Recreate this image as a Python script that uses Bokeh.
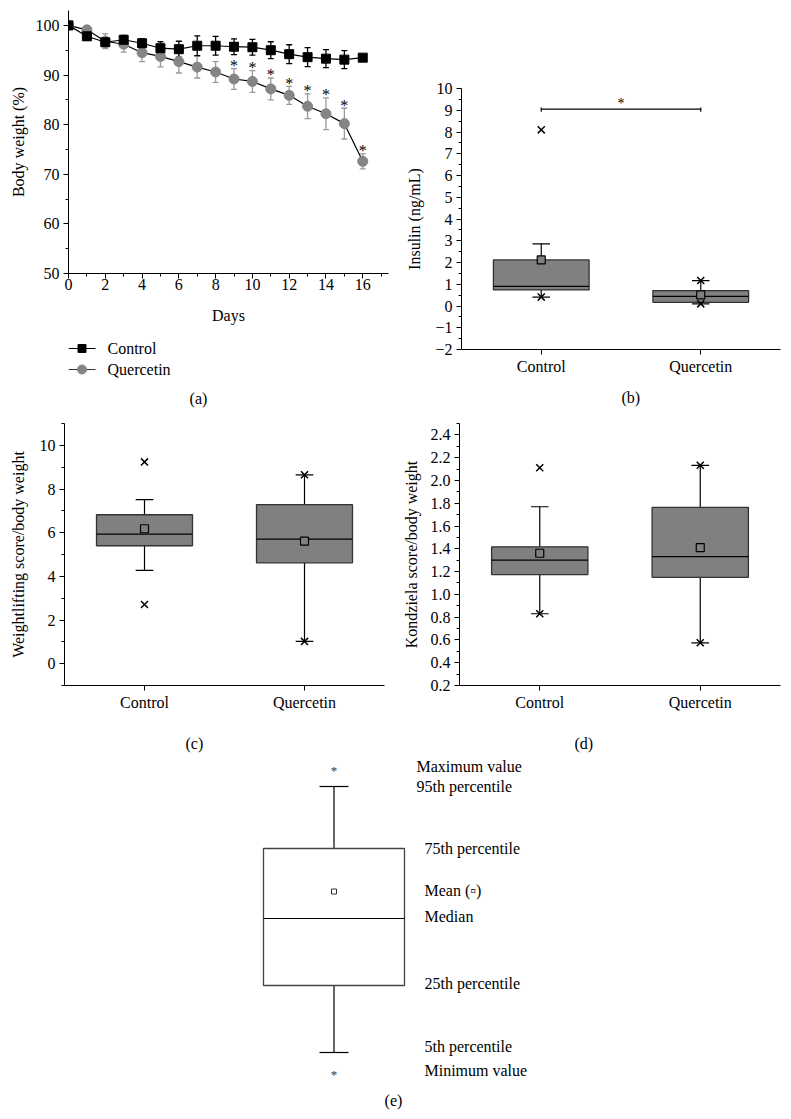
from bokeh.plotting import figure
from bokeh.models import (FixedTicker, ColumnDataSource, Title,
                          Whisker, TeeHead, NumeralTickFormatter, Range1d)
from bokeh.layouts import column, row
from bokeh.embed import file_html
from bokeh.resources import INLINE
from bokeh.core.properties import value

FONT = "Liberation Serif"
FS = "16px"

# ---------------- (a) body weight ----------------
days = list(range(17))
control_bw = [100, 97.8, 96.6, 97.1, 96.4, 95.4, 95.2, 95.9, 95.9, 95.7, 95.6, 95.0, 94.2, 93.6, 93.3, 93.1, 93.5]
control_sem = [0, 0.8, 0.9, 0.9, 0.9, 1.3, 1.6, 2.0, 1.9, 1.6, 1.6, 1.7, 1.9, 1.9, 1.8, 1.8, 0.4]
quercetin_bw = [100, 99.1, 96.8, 96.2, 94.5, 93.75, 92.7, 91.6, 90.6, 89.2, 88.7, 87.2, 85.9, 83.7, 82.2, 80.2, 72.6]
quercetin_sem = [0, 0.4, 1.5, 1.6, 1.8, 2.1, 2.3, 2.2, 2.1, 2.1, 2.2, 2.2, 1.8, 2.5, 3.2, 3.1, 1.5]
significant_days = [9, 10, 11, 12, 13, 14, 15, 16]
series_names = ["Control", "Quercetin"]

# ---------------- box plots ----------------
groups = ["Control", "Quercetin"]
group_pos = [1, 2]

insulin_q1 = [0.74, 0.17]
insulin_median = [0.90, 0.44]
insulin_q3 = [2.12, 0.71]
insulin_mean = [2.12, 0.51]
insulin_p5 = [0.41, 0.10]
insulin_p95 = [2.86, 1.17]
insulin_min = [0.41, 0.10]
insulin_max = [8.10, 1.17]

weight_q1 = [5.40, 4.62]
weight_median = [5.93, 5.70]
weight_q3 = [6.82, 7.28]
weight_mean = [6.18, 5.61]
weight_p5 = [4.27, 1.02]
weight_p95 = [7.51, 8.65]
weight_min = [2.71, 1.02]
weight_max = [9.24, 8.65]

kond_q1 = [1.174, 1.15]
kond_median = [1.30, 1.332]
kond_q3 = [1.417, 1.764]
kond_mean = [1.361, 1.411]
kond_p5 = [0.83, 0.575]
kond_p95 = [1.769, 2.133]
kond_min = [0.83, 0.575]
kond_max = [2.112, 2.133]

# ---------------- (e) key ----------------
key_labels = ["Maximum value", "95th percentile", "75th percentile", "Mean (\u25ab)",
              "Median", "25th percentile", "5th percentile", "Minimum value"]
key_max, key_p95, key_q3, key_mean, key_median, key_q1, key_p5, key_min = 30.4, 28.5, 22.3, 18.0, 15.3, 8.6, 1.9, 0.0
key_label_y = [30.5, 28.5, 22.3, 18.1, 15.5, 8.8, 2.5, 0.1]
key_label_x = [408, 408, 416, 416, 416, 416, 416, 416]

BOX_FILL = "#808080"
BOX_LINE = "#333333"


def make_fig(w, h, bl, br, bt, bb, xr, yr):
    p = figure(width=w, height=h, min_border_left=bl, min_border_right=br,
               min_border_top=bt, min_border_bottom=bb, x_range=Range1d(*xr), y_range=Range1d(*yr),
               output_backend="svg", toolbar_location=None, align="start")
    p.outline_line_color = None
    p.grid.visible = False
    p.background_fill_color = "white"
    p.border_fill_color = "white"
    for ax in (p.xaxis[0], p.yaxis[0]):
        ax.axis_line_color = "black"
        ax.axis_line_width = 1
        ax.major_tick_line_color = "black"
        ax.minor_tick_line_color = "black"
        ax.major_tick_in = 0
        ax.major_tick_out = 5
        ax.minor_tick_in = 0
        ax.minor_tick_out = 3
        ax.major_label_text_font = FONT
        ax.major_label_text_font_size = FS
        ax.major_label_text_color = "black"
        ax.axis_label_text_font = FONT
        ax.axis_label_text_font_size = FS
        ax.axis_label_text_font_style = "normal"
        ax.axis_label_text_color = "black"
    p.yaxis.major_label_standoff = 4
    return p


def caption(p, text, offset):
    p.add_layout(Title(text=text, align="left", offset=offset, standoff=0, vertical_align="bottom",
                       text_font=FONT, text_font_size=FS, text_font_style="normal", text_color="black"),
                 "below")


def spacer_label(p, gap):
    # invisible axis label used only as vertical spacing before the panel caption
    p.xaxis.axis_label = " "
    p.xaxis.axis_label_text_font_size = "1px"
    p.xaxis.axis_label_standoff = gap


# ---------------- panel (a) ----------------
pa = make_fig(395, 331, 68, 7, 10, 58, (0, 17.4), (50, 103))
pa.xaxis.ticker = FixedTicker(ticks=list(range(0, 17, 2)), minor_ticks=list(range(1, 18, 2)))
pa.yaxis.ticker = FixedTicker(ticks=list(range(50, 101, 10)), minor_ticks=list(range(55, 101, 10)))
pa.xaxis.major_label_standoff = 0
pa.xaxis.axis_label = "Days"
pa.xaxis.axis_label_standoff = 14
pa.yaxis.axis_label = "Body weight (%)"
pa.yaxis.axis_label_standoff = 6

qsrc = ColumnDataSource(dict(x=days, y=quercetin_bw,
                             lo=[m - e for m, e in zip(quercetin_bw, quercetin_sem)],
                             hi=[m + e for m, e in zip(quercetin_bw, quercetin_sem)]))
csrc = ColumnDataSource(dict(x=days, y=control_bw,
                             lo=[m - e for m, e in zip(control_bw, control_sem)],
                             hi=[m + e for m, e in zip(control_bw, control_sem)]))

pa.add_layout(Whisker(source=qsrc, base="x", lower="lo", upper="hi", line_color="#9a9a9a", line_width=1.3,
                      upper_head=TeeHead(size=6, line_color="#9a9a9a", line_width=1.3),
                      lower_head=TeeHead(size=6, line_color="#9a9a9a", line_width=1.3)))
pa.line("x", "y", source=qsrc, line_color="black", line_width=1.2)
pa.scatter("x", "y", source=qsrc, marker="circle", size=10, fill_color="#858585", line_color="#858585")
pa.add_layout(Whisker(source=csrc, base="x", lower="lo", upper="hi", line_color="black", line_width=1.3,
                      upper_head=TeeHead(size=6, line_color="black", line_width=1.3),
                      lower_head=TeeHead(size=6, line_color="black", line_width=1.3)))
pa.line("x", "y", source=csrc, line_color="black", line_width=1.2)
pa.scatter("x", "y", source=csrc, marker="square", size=9, fill_color="black", line_color="black")

star_y = [quercetin_bw[d] + quercetin_sem[d] for d in significant_days]
pa.text(x=significant_days, y=star_y, text=["*"] * len(significant_days), text_font=value(FONT),
        text_font_size=FS, text_align="center", text_baseline="middle", y_offset=-3, text_color="black")

# legend + caption strip under panel (a) (coordinates in page pixels)
pa_leg = figure(width=395, height=79, x_range=Range1d(68, 388), y_range=Range1d(410, 331),
                min_border_left=68, min_border_right=7, min_border_top=0, min_border_bottom=0,
                x_axis_type=None, y_axis_type=None, output_backend="svg", toolbar_location=None,
                align="start")
pa_leg.outline_line_color = None
pa_leg.grid.visible = False
leg_y = [348, 369]
pa_leg.segment(x0=[68, 68], y0=leg_y, x1=[95, 95], y1=leg_y, line_color=["black", "#333333"], line_width=1.2)
pa_leg.scatter(x=[81.5], y=[leg_y[0]], marker="square", size=8, fill_color="black", line_color="black")
pa_leg.scatter(x=[81.5], y=[leg_y[1]], marker="circle", size=9, fill_color="#858585", line_color="#858585")
pa_leg.text(x=[107, 107], y=leg_y, text=series_names, text_font=value(FONT), text_font_size=FS,
            text_align="left", text_baseline="middle", text_color="black")
pa_leg.text(x=[198], y=[398], text=["(a)"], text_font=value(FONT), text_font_size=FS,
            text_align="center", text_baseline="middle", text_color="black")


# ---------------- box helper ----------------
def box_panel(p, q1, med, q3, mean, p5, p95, mn, mx):
    bw = 0.3
    cw = 0.055
    x = group_pos
    p.segment(x0=x, y0=q3, x1=x, y1=p95, line_color="black", line_width=1.2)
    p.segment(x0=x, y0=q1, x1=x, y1=p5, line_color="black", line_width=1.2)
    p.segment(x0=[v - cw for v in x], y0=p95, x1=[v + cw for v in x], y1=p95, line_color="black", line_width=1.2)
    p.segment(x0=[v - cw for v in x], y0=p5, x1=[v + cw for v in x], y1=p5, line_color="black", line_width=1.2)
    p.quad(left=[v - bw for v in x], right=[v + bw for v in x], bottom=q1, top=q3,
           fill_color=BOX_FILL, line_color=BOX_LINE, line_width=1.3)
    p.segment(x0=[v - bw for v in x], y0=med, x1=[v + bw for v in x], y1=med, line_color="black", line_width=1.2)
    p.scatter(x=x, y=mean, marker="square", size=8, fill_color=BOX_FILL, line_color="black", line_width=1.2)
    p.scatter(x=x, y=mn, marker="x", size=10, line_color="black", line_width=1.5)
    p.scatter(x=x, y=mx, marker="x", size=10, line_color="black", line_width=1.5)
    p.xaxis.ticker = FixedTicker(ticks=group_pos, minor_ticks=[])
    p.xaxis.major_label_overrides = {1: groups[0], 2: groups[1]}
    p.xaxis.major_label_standoff = 3


# ---------------- panel (b) ----------------
pb = make_fig(388, 410, 66, 3, 88, 61, (0.5, 2.5), (-2, 10))
pb.yaxis.ticker = FixedTicker(ticks=list(range(-2, 11)), minor_ticks=[v + 0.5 for v in range(-2, 10)])
pb.yaxis.major_label_overrides = {-2: "\u22122", -1: "\u22121"}
pb.yaxis.axis_label = "Insulin (ng/mL)"
pb.yaxis.axis_label_standoff = 9
box_panel(pb, insulin_q1, insulin_median, insulin_q3, insulin_mean, insulin_p5, insulin_p95, insulin_min, insulin_max)
bracket_y = 9.05
pb.segment(x0=[group_pos[0]], y0=[bracket_y], x1=[group_pos[1]], y1=[bracket_y], line_color="black", line_width=1.2)
pb.segment(x0=group_pos, y0=[bracket_y - 0.12] * 2, x1=group_pos, y1=[bracket_y + 0.08] * 2, line_color="black", line_width=1.2)
pb.text(x=[sum(group_pos) / 2], y=[bracket_y], text=["*"], text_font=value(FONT), text_font_size="14px",
        text_align="center", text_baseline="bottom", y_offset=2, text_color="black")
spacer_label(pb, 5)
caption(pb, "(b)", 160)

# ---------------- panel (c) ----------------
pc = make_fig(395, 348, 64, 11, 13, 73, (0.5, 2.5), (-1, 11))
pc.yaxis.ticker = FixedTicker(ticks=list(range(0, 11, 2)), minor_ticks=list(range(-1, 12, 2)))
pc.yaxis.axis_label = "Weightlifting score/body weight"
pc.yaxis.axis_label_standoff = 10
box_panel(pc, weight_q1, weight_median, weight_q3, weight_mean, weight_p5, weight_p95, weight_min, weight_max)
spacer_label(pc, 15)
caption(pc, "(c)", 121)

# ---------------- panel (d) ----------------
pd_ = make_fig(388, 348, 64, 3, 13, 73, (0.5, 2.5), (0.2, 2.5))
pd_.yaxis.ticker = FixedTicker(ticks=[round(0.2 * i, 1) for i in range(1, 13)],
                               minor_ticks=[round(0.1 + 0.2 * i, 1) for i in range(1, 13)])
pd_.yaxis.formatter = NumeralTickFormatter(format="0.0")
pd_.yaxis.axis_label = "Kondziela score/body weight"
pd_.yaxis.axis_label_standoff = 8
box_panel(pd_, kond_q1, kond_median, kond_q3, kond_mean, kond_p5, kond_p95, kond_min, kond_max)
spacer_label(pd_, 15)
caption(pd_, "(d)", 115)

# ---------------- panel (e) key ----------------
pe = figure(width=783, height=353, x_range=Range1d(-8, 775), y_range=Range1d(-4, 31.3),
            x_axis_type=None, y_axis_type=None, min_border=0, output_backend="svg", toolbar_location=None)
pe.outline_line_color = None
pe.grid.visible = False
KX, KBW, KCW = 325.5, 141, 29
pe.segment(x0=[KX, KX], y0=[key_q3, key_q1], x1=[KX, KX], y1=[key_p95, key_p5], line_color="black", line_width=1.2)
pe.segment(x0=[KX - KCW / 2] * 2, y0=[key_p95, key_p5], x1=[KX + KCW / 2] * 2, y1=[key_p95, key_p5],
           line_color="black", line_width=1.2)
pe.quad(left=[KX - KBW / 2], right=[KX + KBW / 2], bottom=[key_q1], top=[key_q3], fill_color="white",
        line_color="#444444", line_width=1.3)
pe.segment(x0=[KX - KBW / 2], y0=[key_median], x1=[KX + KBW / 2], y1=[key_median], line_color="black", line_width=1.2)
pe.scatter(x=[KX], y=[key_mean], marker="square", size=5, fill_color="white", line_color="#333333", line_width=1)
pe.text(x=[KX, KX], y=[key_max, key_min], text=["*", "*"], text_font=value(FONT), text_font_size="13px",
        text_align="center", text_baseline="middle", y_offset=3, text_color="#333333")
pe.text(x=key_label_x, y=key_label_y, text=key_labels, text_font=value(FONT), text_font_size=FS,
        text_align="left", text_baseline="middle", text_color="black")
pe.text(x=[385], y=[-2.9], text=["(e)"], text_font=value(FONT), text_font_size=FS,
        text_align="center", text_baseline="middle", text_color="black")

layout = column(row(column(pa, pa_leg), column(pb)), row(column(pc), column(pd_)), pe)
open("out.html", "w").write(file_html(layout, INLINE))
